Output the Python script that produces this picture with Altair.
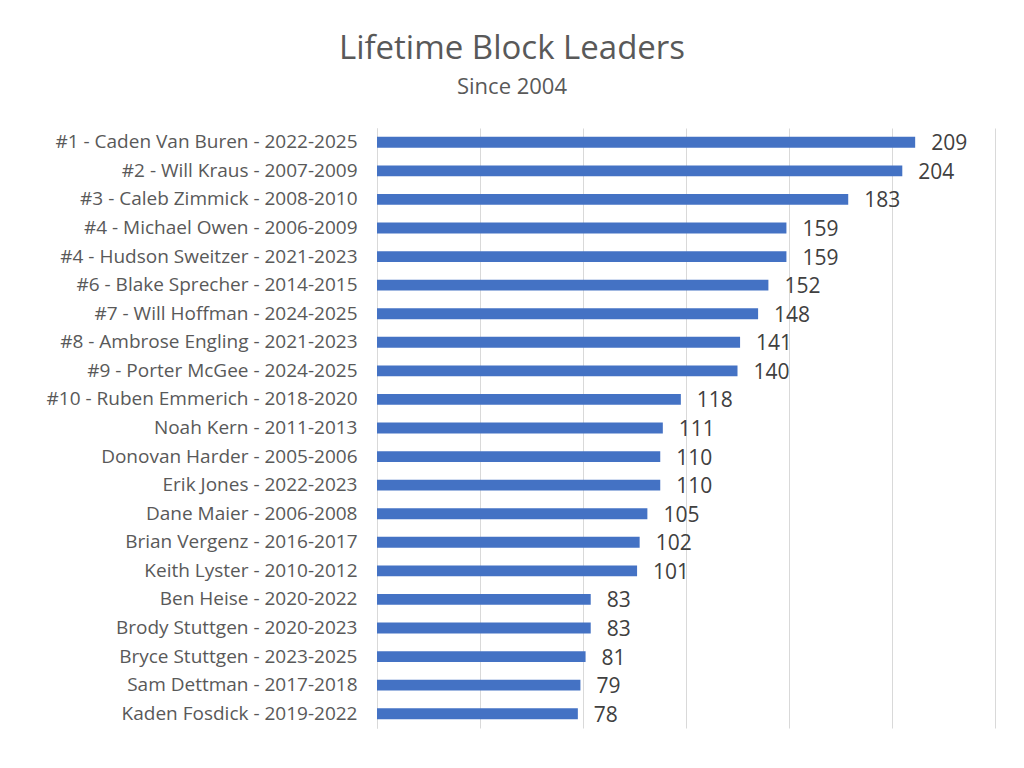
import altair as alt
import pandas as pd

players = [
    "#1 - Caden Van Buren - 2022-2025",
    "#2 - Will Kraus - 2007-2009",
    "#3 - Caleb Zimmick - 2008-2010",
    "#4 - Michael Owen  - 2006-2009",
    "#4 - Hudson Sweitzer - 2021-2023",
    "#6 - Blake Sprecher - 2014-2015",
    "#7 - Will Hoffman - 2024-2025",
    "#8 - Ambrose Engling - 2021-2023",
    "#9 - Porter McGee - 2024-2025",
    "#10 - Ruben Emmerich - 2018-2020",
    "Noah Kern - 2011-2013",
    "Donovan Harder - 2005-2006",
    "Erik Jones - 2022-2023",
    "Dane Maier - 2006-2008",
    "Brian Vergenz - 2016-2017",
    "Keith Lyster - 2010-2012",
    "Ben Heise - 2020-2022",
    "Brody Stuttgen - 2020-2023",
    "Bryce Stuttgen - 2023-2025",
    "Sam Dettman - 2017-2018",
    "Kaden Fosdick - 2019-2022",
]
blocks = [209, 204, 183, 159, 159, 152, 148, 141, 140, 118, 111, 110, 110,
          105, 102, 101, 83, 83, 81, 79, 78]
x_ticks = [0, 40, 80, 120, 160, 200, 240]

df = pd.DataFrame({"player": players, "blocks": blocks})

FONT = "Open Sans"

y_enc = alt.Y(
    "player:N",
    sort=players,
    title=None,
    scale=alt.Scale(paddingInner=0.62, paddingOuter=0.31),
    axis=alt.Axis(
        labelFont=FONT, labelFontSize=19, labelColor="#595959",
        labelPadding=20, labelLimit=400, ticks=False,
        domainColor="#d9d9d9", domainWidth=1, grid=False,
    ),
)
x_enc = alt.X(
    "blocks:Q",
    title=None,
    scale=alt.Scale(domain=[0, 240], nice=False),
    axis=alt.Axis(values=x_ticks, labels=False, ticks=False, domain=False,
                  grid=True, gridColor="#d9d9d9", gridWidth=1),
)

bars = alt.Chart(df).mark_bar(color="#4472C4").encode(x=x_enc, y=y_enc)
labels = alt.Chart(df).mark_text(
    align="left", baseline="middle", dx=16, dy=2,
    font=FONT, fontSize=21, color="#404040",
).encode(x="blocks:Q", y=alt.Y("player:N", sort=players), text="blocks:Q")

chart = (bars + labels).properties(
    width=618,
    height=600,
    autosize=alt.AutoSizeParams(type="none"),
    padding={"left": 369, "top": 120, "right": 21, "bottom": 32},
    title=alt.TitleParams(
        text="Lifetime Block Leaders",
        subtitle="Since 2004",
        anchor="middle",
        frame="group",
        dx=-174,
        offset=30,
        font=FONT, fontSize=33, fontWeight="normal", color="#595959",
        subtitleFont=FONT, subtitleFontSize=22, subtitleColor="#595959",
        subtitlePadding=11,
    ),
).configure_view(stroke=None)

chart.save("out.html", embed_options={"renderer": "svg", "actions": False})
